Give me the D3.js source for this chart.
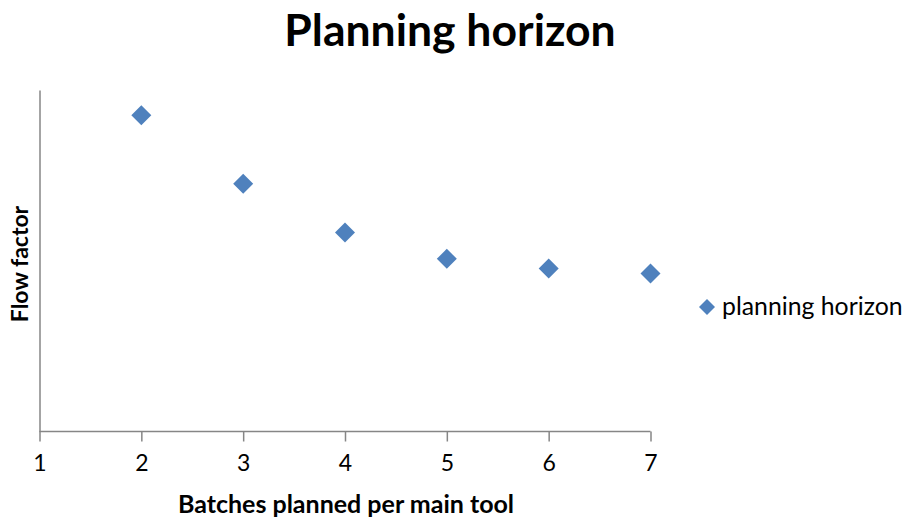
<!DOCTYPE html>
<html><head><meta charset="utf-8">
<script src="https://cdn.jsdelivr.net/npm/d3@7"></script>
<style>body{margin:0;background:#fff;} svg{display:block;font-family:Lato,"Open Sans",sans-serif;}</style>
</head><body>
<svg id="c" width="904" height="519"></svg>
<script>
const batches = [2, 3, 4, 5, 6, 7];
const flowFactor = [3.24, 2.54, 2.04, 1.77, 1.67, 1.62];
const xTicks = [1, 2, 3, 4, 5, 6, 7];
const seriesName = "planning horizon";
const color = "#4F81BD";

const svg = d3.select("#c");
const x = d3.scaleLinear().domain([1, 7]).range([39.5, 650.5]);
const y = d3.scaleLinear().domain([0, 3.5]).range([431.5, 90]);

svg.append("text").attr("x", 450).attr("y", 46).attr("text-anchor", "middle")
  .attr("font-size", 44.5).attr("font-weight", "bold").text("Planning horizon");

const xa = svg.append("g").attr("transform", "translate(0,431.5)")
  .call(d3.axisBottom(x).tickValues(xTicks).tickSize(10).tickPadding(13).tickFormat(d3.format("d")));
xa.select(".domain").attr("stroke", "#868686").attr("stroke-width", 1.5).attr("d", `M${x(1)},0H${x(7)}`);
xa.selectAll(".tick line").attr("stroke", "#868686").attr("stroke-width", 1.5);
xa.selectAll(".tick text").attr("font-size", 23).attr("fill", "#000").attr("font-family", "Lato,sans-serif");

const ya = svg.append("g").attr("transform", "translate(39.5,0)")
  .call(d3.axisLeft(y).tickValues([]).tickSizeOuter(0));
ya.select(".domain").attr("stroke", "#868686").attr("stroke-width", 1.5);

svg.append("text").attr("x", 346).attr("y", 513).attr("text-anchor", "middle")
  .attr("font-size", 25).attr("font-weight", "bold").text("Batches planned per main tool");
svg.append("text").attr("transform", "translate(28,264) rotate(-90)").attr("text-anchor", "middle")
  .attr("font-size", 23).attr("font-weight", "bold").text("Flow factor");

const dpath = "M0,-10L10,0L0,10L-10,0Z";
svg.append("g").selectAll("path").data(batches).join("path")
  .attr("d", dpath)
  .attr("transform", (d, i) => `translate(${x(d)},${y(flowFactor[i])})`)
  .attr("fill", color);

const lg = svg.append("g").attr("transform", "translate(707,307)");
lg.append("path").attr("d", "M0,-8L8,0L0,8L-8,0Z").attr("fill", color);
lg.append("text").attr("x", 15).attr("y", 8).attr("font-size", 24.8).text(seriesName);
</script>
</body></html>
